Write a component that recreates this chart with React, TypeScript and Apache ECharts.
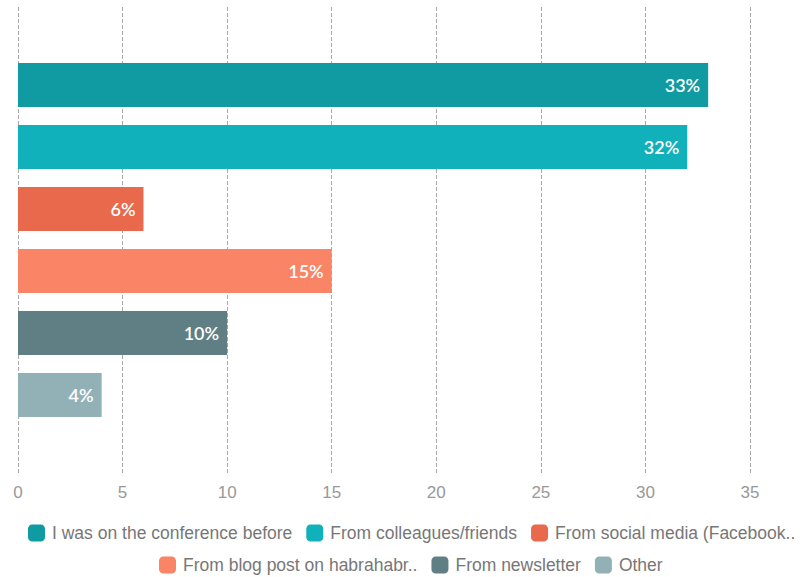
import React, { useEffect, useRef } from "react";
import * as echarts from "echarts";

const seriesNames = [
  "I was on the conference before",
  "From colleagues/friends",
  "From social media (Facebook..",
  "From blog post on habrahabr..",
  "From newsletter",
  "Other",
];
const seriesValues = [33, 32, 6, 15, 10, 4];
const seriesColors = ["#0F9BA1", "#10B1BB", "#E8694B", "#FA8466", "#5F7F84", "#92B1B6"];
const categories = [""];
const xTicks = { min: 0, max: 35, interval: 5 };

export default function App() {
  const ref = useRef<HTMLDivElement>(null);
  useEffect(() => {
    if (!ref.current) return;
    const chart = echarts.init(ref.current, undefined, { renderer: "svg" });
    const legendBase = {
      padding: 0,
      width: 790,
      itemWidth: 17,
      itemHeight: 17,
      itemGap: 14,
      icon: "roundRect",
      textStyle: { color: "#777", fontSize: 17.5, padding: [0, 0, 0, 2], fontFamily: "Liberation Sans, Arial, sans-serif" },
    };
    chart.setOption({
      animation: false,
      grid: { left: 18, right: 53, top: 7, bottom: 104, containLabel: false },
      legend: [
        { ...legendBase, left: 28, top: 524, data: seriesNames.slice(0, 3) },
        { ...legendBase, left: 159, top: 556, data: seriesNames.slice(3) },
      ],
      xAxis: {
        type: "value",
        min: xTicks.min,
        max: xTicks.max,
        interval: xTicks.interval,
        axisLine: { show: false },
        axisTick: { show: false },
        axisLabel: { color: "#999", fontSize: 17, margin: 11, fontFamily: "Liberation Sans, Arial, sans-serif" },
        splitLine: { show: true, lineStyle: { type: "dashed", color: "#aaa", width: 1 } },
      },
      yAxis: {
        type: "category",
        data: categories,
        inverse: true,
        axisLine: { show: false },
        axisTick: { show: false },
        axisLabel: { show: false },
      },
      series: seriesNames.map((name, i) => ({
        name,
        type: "bar",
        data: [seriesValues[i]],
        barWidth: 44,
        barGap: "41%",
        itemStyle: { color: seriesColors[i] },
        label: {
          show: true,
          position: "insideRight",
          distance: 8,
          formatter: "{c}%",
          color: "#fff",
          fontSize: 18,
          fontWeight: 600,
          fontFamily: "Lato, sans-serif",
        },
      })),
    });
    return () => chart.dispose();
  }, []);
  return <div ref={ref} style={{ width: 803, height: 577, position: "absolute", left: 0, top: 0 }} />;
}
